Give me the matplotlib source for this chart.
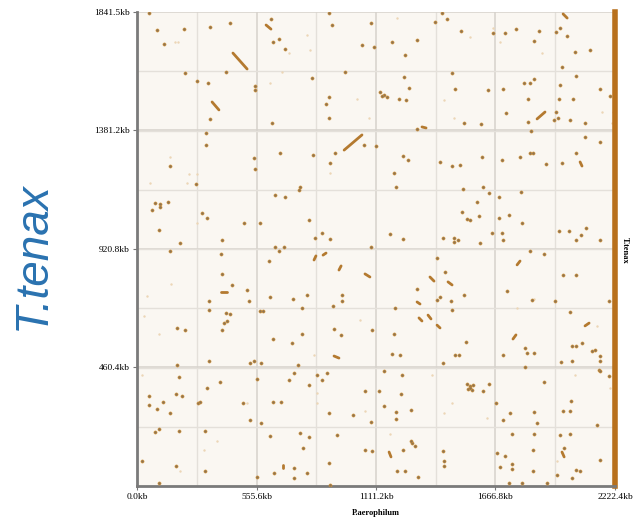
import numpy as np
import matplotlib
matplotlib.use("Agg")
import matplotlib.pyplot as plt

# genome lengths (kb)
x_len = 2222.4
y_len = 1841.5
x_ticks = [0.0, 555.6, 1111.2, 1666.8, 2222.4]
x_labels = ["0.0kb", "555.6kb", "1111.2kb", "1666.8kb", "2222.4kb"]
y_ticks = [460.4, 920.8, 1381.2, 1841.5]
y_labels = ["460.4kb", "920.8kb", "1381.2kb", "1841.5kb"]

# strong hits (x kb on P.aerophilum, y kb on T.tenax)
hits = [
    (56,1838),(93,1772),(126,1717),(219,1775),(339,1783),(432,1799),(623,1814),(660,1737),(632,1725),
    (688,1698),(414,1608),(223,1604),(279,1573),(330,1566),(549,1554),(549,1538),(339,1426),(628,1410),
    (321,1371),(321,1325),(665,1294),(544,1274),(549,1232),(153,1243),(274,1173),(84,1099),(107,1096),
    (107,1084),(70,1072),(144,1103),(642,1131),(688,1123),(302,1061),(326,1041),(102,995),(498,1022),
    (572,1022),(200,944),(395,956),(642,929),(684,929),
    (893,1838),(907,1791),(1088,1799),(1418,1838),(1386,1803),(1442,1814),(1046,1713),(1102,1706),
    (1186,1725),(1302,1733),(1246,1674),(967,1608),(814,1585),(1242,1589),(1465,1604),(1265,1546),
    (1479,1542),(1130,1531),(1149,1519),(1163,1511),(1139,1515),(893,1511),(879,1484),(1218,1503),
    (1251,1500),(893,1430),(1302,1387),(921,1294),(897,1255),(1056,1325),(1111,1321),(818,1286),
    (1237,1282),(1260,1267),(1409,1259),(1465,1243),(1195,1216),(1204,1162),(758,1162),(753,1150),
    (800,1033),(828,963),(860,983),(897,960),(1176,979),(1237,960),(1423,963),(1474,963),(1474,948),
    (1088,929),
    (1507,1768),(1655,1760),(1711,1760),(1762,1775),(1869,1768),(1948,1764),(1967,1779),(2000,1748),
    (1846,1729),(2037,1686),(2106,1694),(1976,1628),(2041,1593),(1846,1581),(1800,1566),(1827,1566),
    (1967,1558),(1702,1542),(1632,1538),(2153,1542),(2199,1515),(1818,1503),(1962,1503),(2027,1503),
    (1948,1453),(1939,1422),(1958,1430),(1716,1449),(1818,1414),(1521,1410),(1600,1406),(2013,1422),
    (2083,1410),(1832,1379),(2083,1356),(2153,1336),(1827,1294),(1781,1278),(1841,1294),(1697,1267),
    (2041,1294),(1902,1251),(1976,1255),(1502,1247),(1604,1278),(1516,1154),(1609,1162),(1637,1138),
    (1581,1103),(1683,1123),(1786,1142),(1548,1033),(1590,1049),(1511,1064),(1535,1037),(1683,1041),
    (1730,1053),(1790,1022),(1962,991),(2009,991),(2088,1002),(2041,956),(2065,975),(2153,956),
    (1702,956),(1697,983),(1651,983),(1595,944),(1493,956),
    (153,913),(391,901),(614,874),(660,913),(395,824),(442,781),(512,761),(521,719),(618,734),
    (725,726),(335,719),(335,684),(414,672),(432,668),(419,641),(405,633),(572,680),(586,680),
    (186,614),(223,606),(395,606),(632,571),(721,556),(186,470),(335,486),(525,478),(544,486),
    (577,478),(195,423),(386,404),(558,416),(707,412),(730,439),(326,381),(181,357),(209,350),
    (56,350),(121,326),(56,315),(93,299),(153,284),(284,322),(293,326),(493,322),(632,326),
    (670,326),(525,256),(577,245),(102,221),(84,210),(195,214),(316,214),(618,194),(23,97),
    (181,78),(316,58),(558,35),(637,51),(730,70),(730,31),(102,12),
    (1395,886),(1432,831),(1302,765),(911,699),(953,719),(953,742),(791,742),(767,692),(1200,692),
    (1395,723),(1409,734),(1460,719),(1465,684),(916,610),(949,587),(1093,606),(1195,591),(767,591),
    (1186,513),(1223,509),(1479,509),(1423,478),(749,470),(1149,447),(837,431),(860,412),(884,439),
    (1232,431),(800,392),(1060,369),(1125,369),(1228,357),(1149,311),(1204,287),(1204,260),
    (1274,295),(1004,276),(893,284),(1088,249),(758,206),(930,198),(800,190),(1279,167),(1293,155),
    (1274,175),(1237,140),(772,148),(1093,136),(1060,140),(1423,136),(1428,97),(1428,78),(893,89),
    (791,51),(1209,58),(1246,58),(1307,35),(897,4),
    (1893,901),(1827,913),(1521,742),(1721,758),(1837,723),(1981,820),(2041,820),(2195,719),
    (1944,719),(2013,676),(1530,559),(1804,536),(1813,517),(1846,517),(2023,544),(2041,544),
    (2069,556),(2130,528),(2116,524),(2153,505),(1972,482),(2023,486),(2153,486),(2148,451),
    (2153,447),(1497,509),(1702,509),(1804,462),(2195,427),(1893,404),(1535,396),(1548,389),
    (1562,392),(1539,377),(1558,373),(1548,381),(1609,369),(1637,396),(1669,322),(1734,284),
    (1846,287),(1860,245),(1702,256),(2018,330),(1981,291),(2013,291),(2139,237),(1744,202),
    (1846,202),(1967,198),(2013,202),(1841,140),(1986,148),(2153,101),(1711,117),(1674,128),
    (1688,74),(1744,66),(1744,85),(1841,58),(2041,62),(2060,58),(1953,43),(2023,31),(1730,12),
    (1790,12),(1907,12),
]

# longer aligned runs: x0, y0, x1, y1 (kb)
runs = [
    (600,1791,623,1775),(446,1682,512,1620),(349,1492,381,1461),(963,1305,1046,1364),
    (1325,1395,1344,1391),(1981,1834,2000,1818),(1860,1426,1897,1453),(2060,1259,2069,1243),
    (391,754,419,754),(679,82,679,70),(823,878,832,894),(865,897,879,905),(939,839,949,855),
    (1060,824,1083,812),(1362,812,1381,796),(1446,793,1465,781),(1302,715,1316,707),
    (1353,664,1367,649),(1311,653,1325,641),(1395,625,1409,614),(916,505,939,497),
    (1172,132,1181,113),(1767,859,1781,874),(2083,622,2102,633),(1748,571,1762,587),
    (1976,132,1986,113),
]

# weak hits
weak = [
    (177,1725),(242,1212),(279,1212),(191,1725),(674,1608),(707,1682),(153,1278),(233,1177),
    (618,1566),(60,1177),(279,1022),(897,1216),(791,1752),(804,1694),(1023,1503),(1079,1430),
    (1209,1818),(1428,1500),(1474,1430),(1655,1779),(1688,1725),(2162,1453),(2213,1453),
    (2209,1410),(1883,1682),(1548,1744),(47,738),(158,785),(102,591),(33,660),(23,431),
    (372,175),(312,140),(200,58),(512,322),(837,322),(837,361),(1060,291),(1428,284),
    (1465,322),(823,509),(1037,645),(1372,431),(1176,202),(1846,726),(2139,622),(2037,431),
    (2199,381),(2218,97),(1953,97),(1628,264),(1767,692),
]

hits = np.array(hits, dtype=float)
weak = np.array(weak, dtype=float)

fig = plt.figure(figsize=(6.36, 5.21), dpi=100)
ax = fig.add_axes([137 / 636, 35 / 521, 478 / 636, 474 / 521])
ax.set_facecolor("#faf7f2")
ax.set_xlim(0, x_len)
ax.set_ylim(0, y_len)

# grid every half tick
ax.set_xticks(np.linspace(0, x_len, 9), minor=True)
ax.set_yticks(np.linspace(0, y_len, 9), minor=True)
ax.grid(True, which="minor", color="#e4e0da", lw=1.0)
ax.grid(True, which="major", color="#d6d2cc", lw=1.1)
ax.set_axisbelow(True)

ax.scatter(weak[:, 0], weak[:, 1], s=3, color="#ecd6b6", lw=0, zorder=2)
for x0, y0, x1, y1 in runs:
    ax.plot([x0, x1], [y0, y1], color="#b47a30", lw=2.0, solid_capstyle="round", zorder=3)
ax.scatter(hits[:, 0], hits[:, 1], s=5, color="#8e7452", edgecolor="#cf9138", lw=0.45, zorder=4)

ax.set_xticks(x_ticks)
ax.set_xticklabels(x_labels)
ax.set_yticks(y_ticks)
ax.set_yticklabels(y_labels)
ax.tick_params(which="major", length=3, width=0.8, color="#777777", labelsize=6.8, pad=2)
ax.tick_params(which="minor", length=0)
for lab in ax.get_xticklabels() + ax.get_yticklabels():
    lab.set_family("Liberation Serif")

ax.spines["top"].set_visible(False)
for s in ("left", "bottom"):
    ax.spines[s].set_color("#7a7a7a")
    ax.spines[s].set_linewidth(2)
ax.spines["right"].set_color("#b8701c")
ax.spines["right"].set_linewidth(4)

ax.set_xlabel("P.aerophilum", family="Liberation Serif", fontweight="bold", fontsize=6, labelpad=6)
fig.text(625 / 636, 1 - 250 / 521, "T.tenax", rotation=270, family="Liberation Serif",
         fontweight="bold", fontsize=6, ha="center", va="center")

fig.text(33 / 636, 1 - 256 / 521, "T.tenax", rotation=90, family="Liberation Sans",
         style="italic", fontsize=33, color="#2a72b0", ha="center", va="center")

fig.savefig("out.png", dpi=100, facecolor="white")
